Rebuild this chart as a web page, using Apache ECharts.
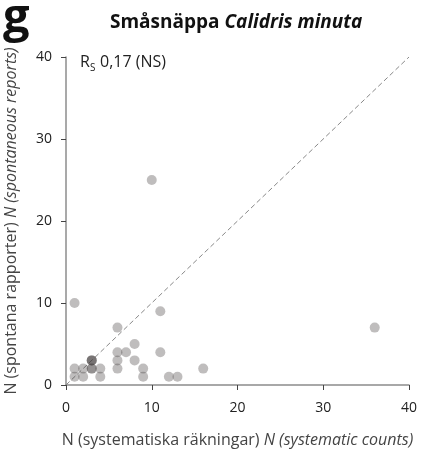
<!DOCTYPE html>
<html>
<head>
<meta charset="utf-8">
<script src="https://cdn.jsdelivr.net/npm/echarts@6/dist/echarts.min.js"></script>
<style>
  html, body { margin: 0; padding: 0; background: #fff; }
  #main { width: 432px; height: 451px; }
</style>
</head>
<body>
<div id="main"></div>
<script>
// Småsnäppa - systematiska räkningar vs spontana rapporter
var sysCounts = [1, 10, 11, 6, 36, 8, 6, 7, 11, 6, 8, 3, 3, 3, 1, 2, 3, 3, 4, 6, 9, 16, 1, 2, 4, 9, 12, 13];
var spontReports = [10, 25, 9, 7, 7, 5, 4, 4, 4, 3, 3, 3, 3, 3, 2, 2, 2, 2, 2, 2, 2, 2, 1, 1, 1, 1, 1, 1];
var refLine = [0, 40];
var xTicks = [0, 10, 20, 30, 40];
var yTicks = [0, 10, 20, 30, 40];

var points = [];
for (i = 0; i < sysCounts.length; i++) {
    points.push([sysCounts[i], spontReports[i]]);
}
var diag = refLine.map(function (v) { return [v, v]; });

var myChart = echarts.init(document.getElementById('main'));
var font = '"Open Sans", "Noto Sans", sans-serif';

var option = {
    animation: false,
    grid: {
        left: 66,
        right: 23,
        top: 57,
        bottom: 66,
        outerBoundsMode: 'none'
    },
    xAxis: {
        type: 'value',
        min: xTicks[0],
        max: xTicks[xTicks.length - 1],
        interval: 10,
        splitLine: { show: false },
        axisLine: { lineStyle: { color: '#8c8c8c', width: 1.5 } },
        axisTick: { length: 5, lineStyle: { color: '#444' } },
        axisLabel: { color: '#222', fontSize: 14, fontFamily: font, margin: 16 },
        name: '{n|N (systematiska räkningar) }{i|N (systematic counts)}',
        nameLocation: 'middle',
        nameGap: 47,
        nameTextStyle: {
            rich: {
                n: { fontSize: 16, color: '#444', fontFamily: font },
                i: { fontSize: 16, color: '#444', fontFamily: font, fontStyle: 'italic' }
            }
        }
    },
    yAxis: {
        type: 'value',
        min: yTicks[0],
        max: yTicks[yTicks.length - 1],
        interval: 10,
        splitLine: { show: false },
        axisLine: { show: true, lineStyle: { color: '#8c8c8c', width: 1.5 } },
        axisTick: { show: true, length: 5, lineStyle: { color: '#444' } },
        axisLabel: { color: '#222', fontSize: 14, fontFamily: font, margin: 14 },
        name: '{n|N (spontana rapporter) }{i|N (spontaneous reports)}',
        nameLocation: 'middle',
        nameGap: 47,
        nameTextStyle: {
            rich: {
                n: { fontSize: 16, color: '#444', fontFamily: font },
                i: { fontSize: 16, color: '#444', fontFamily: font, fontStyle: 'italic' }
            }
        }
    },
    graphic: [
        {
            type: 'text', left: 3, top: -5,
            style: { text: 'g', fontSize: 47, fontWeight: 'bold', fontFamily: font, fill: '#111' }
        },
        {
            type: 'text', left: 110, top: 13,
            style: {
                text: '{a|Småsnäppa }{b|Calidris minuta}',
                rich: {
                    a: { fontSize: 19, fontWeight: 'bold', fontFamily: font, fill: '#111' },
                    b: { fontSize: 19, fontWeight: 'bold', fontStyle: 'italic', fontFamily: font, fill: '#111' }
                }
            }
        },
        {
            type: 'text', left: 80, top: 54,
            style: { text: 'R', fontSize: 16, fontFamily: font, fill: '#222' }
        },
        {
            type: 'text', left: 90, top: 63,
            style: { text: 'S', fontSize: 10, fontFamily: font, fill: '#222' }
        },
        {
            type: 'text', left: 100, top: 54,
            style: { text: '0,17 (NS)', fontSize: 16, fontFamily: font, fill: '#222' }
        }
    ],
    series: [
        {
            type: 'line',
            data: diag,
            symbol: 'none',
            silent: true,
            lineStyle: { color: '#888', width: 1, type: [5, 3] },
            z: 1
        },
        {
            type: 'scatter',
            data: points,
            symbol: 'circle',
            symbolSize: 10,
            itemStyle: { color: 'rgba(65, 58, 58, 0.42)' },
            z: 2
        }
    ]
};

option && myChart.setOption(option);
</script>
</body>
</html>
